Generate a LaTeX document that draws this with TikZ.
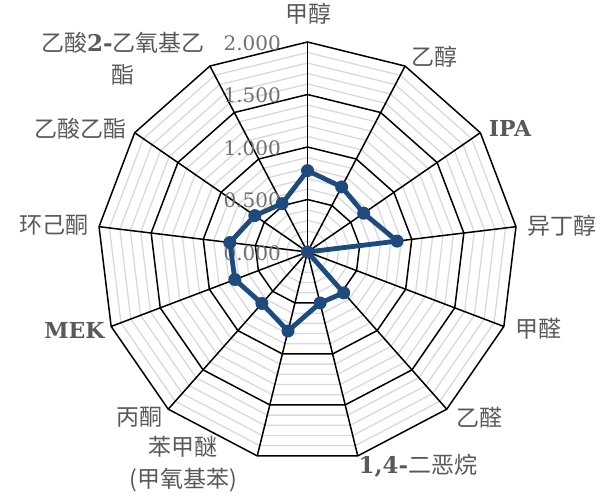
\documentclass[tikz,border=0pt]{standalone}
\usepackage{fontspec}
\setmainfont{DejaVu Serif}
\newfontfamily\cjk{Noto Sans CJK SC}
\definecolor{labcol}{HTML}{595959}
\definecolor{numcol}{HTML}{707070}
\definecolor{minorcol}{HTML}{D9D9D9}
\definecolor{datacol}{HTML}{1F4A7E}
\tikzset{
  minorring/.style={draw=minorcol,line width=1.3pt},
  majorring/.style={draw=black,line width=1.5pt,line join=miter},
  spoke/.style={draw=black,line width=1.5pt},
  dataline/.style={draw=datacol,line width=4.8pt,line join=round},
  datamark/.style={circle,fill=datacol,inner sep=0pt,minimum size=13pt},
  catlab/.style={text=labcol,inner sep=0pt,font=\cjk\fontsize{23}{32}\selectfont,align=center},
  latlab/.style={text=labcol,inner sep=0pt,font=\bfseries\fontsize{22}{30}\selectfont},
  numlab/.style={text=numcol,inner sep=0pt,anchor=east,font=\fontsize{20}{24}\selectfont}
}
\begin{document}
\begin{tikzpicture}[x=1pt,y=1pt]
\useasboundingbox (0,0) rectangle (607,495);
\coordinate (c) at (307.5,243);
\begin{scope}[shift={(307.5,243)}]
  % minor rings
  \foreach \i in {1,2,3,4,6,7,8,9,11,12,13,14,16,17,18,19}{
    \draw[minorring] (90:{\i*10.5}) \foreach \k in {1,...,12}{ -- ({90-\k*360/13}:{\i*10.5})} -- cycle;
  }
  % major rings
  \foreach \i in {5,10,15,20}{
    \draw[majorring] (90:{\i*10.5}) \foreach \k in {1,...,12}{ -- ({90-\k*360/13}:{\i*10.5})} -- cycle;
  }
  % spokes
  \foreach \k in {0,...,12}{
    \coordinate (v\k) at ({90-\k*360/13}:210);
  }
  % data positions
  \foreach \v [count=\k from 0] in {0.775,0.70,0.65,0.86,0.0,0.52,0.50,0.775,0.655,0.74,0.745,0.61,0.52}{
    \coordinate (q\k) at ({90-\k*360/13}:{\v*105});
  }
\end{scope}
\foreach \k in {0,...,12}{ \draw[spoke] (c) -- (v\k); }
% axis numbers
\node[numlab] (n0) at (281,242) {0.000};
\node[numlab] (n1) at (281,294.5) {0.500};
\node[numlab] (n2) at (281,347) {1.000};
\node[numlab] (n3) at (281,399.5) {1.500};
\node[numlab] (n4) at (281,452) {2.000};
% data series
\draw[dataline] (q0) -- (q1) -- (q2) -- (q3) -- (q4) -- (q5) -- (q6) -- (q7) -- (q8) -- (q9) -- (q10) -- (q11) -- (q12) -- cycle;
\foreach \k in {0,...,12}{ \node[datamark] (p\k) at (q\k) {}; }
% category labels
\node[catlab] (l0) at (308,481) {甲醇};
\node[catlab] (l1) at (434.7,438) {乙醇};
\node[latlab] (l2) at (510,367) {IPA};
\node[catlab] (l3) at (561.7,269) {异丁醇};
\node[catlab] (l4) at (538,166) {甲醛};
\node[catlab] (l5) at (479,77) {乙醛};
\node[catlab] (l6) at (418,29) {{\rmfamily\bfseries 1,4-}二恶烷};
\node[catlab] (l7) at (183,30.5) {苯甲醚\\(甲氧基苯)};
\node[catlab] (l8) at (139,78) {丙酮};
\node[latlab] (l9) at (74.5,165) {MEK};
\node[catlab] (l10) at (54,270) {环己酮};
\node[catlab] (l11) at (80.7,366.3) {乙酸乙酯};
\node[catlab] (l12) at (123,436.5) {乙酸{\rmfamily\bfseries 2-}乙氧基乙\\酯};
\end{tikzpicture}
\end{document}
